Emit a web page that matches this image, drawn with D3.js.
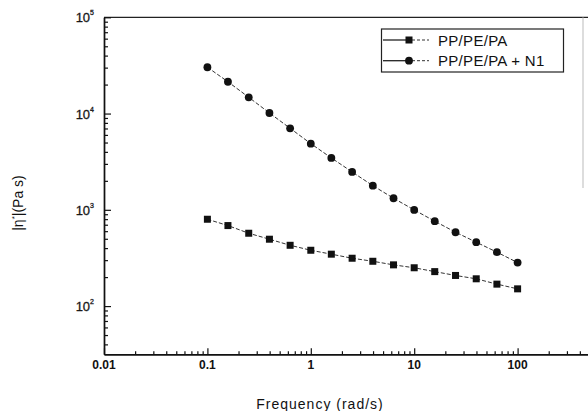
<!DOCTYPE html>
<html><head><meta charset="utf-8">
<script src="https://cdn.jsdelivr.net/npm/d3@7"></script>
<style>body{margin:0;background:#fff}svg{display:block;overflow:hidden}text{font-family:"Liberation Sans",Arial,sans-serif;fill:#111}</style>
</head><body><svg id="c" width="588" height="411"></svg>
<script>
const freq = [0.1, 0.158, 0.251, 0.398, 0.631, 1, 1.58, 2.51, 3.98, 6.31, 10, 15.8, 25.1, 39.8, 63.1, 100];
const blend = [798, 686, 571, 495, 428, 380, 346, 314, 292, 268, 250, 228, 208, 192, 169, 151];
const blendN1 = [30270, 21400, 14760, 10140, 7030, 4870, 3460, 2474, 1782, 1319, 997, 762, 585, 461, 363, 283];
const seriesNames = ["PP/PE/PA", "PP/PE/PA + N1"];
const xTickLabels = ["0.01", "0.1", "1", "10", "100"];
const xTickValues = [0.01, 0.1, 1, 10, 100];
const yTickExps = [2, 3, 4, 5];
const xTitle = "Frequency (rad/s)";

const svg = d3.select("#c");
const L = 104, T = 17.3, B = 354.2;
const x = d3.scaleLog().domain([0.01, 1000]).range([L, L + 5 * 103.4]);
const y = d3.scaleLog().domain([Math.pow(10, 1.5), 1e5]).range([B, T]);

// frame
svg.append("line").attr("x1", L).attr("x2", 588).attr("y1", T).attr("y2", T).attr("stroke", "#222").attr("stroke-width", 1.3);
svg.append("line").attr("x1", 583).attr("x2", 583).attr("y1", T).attr("y2", 188).attr("stroke", "#bbb").attr("stroke-width", 1);

// minor ticks
const minorX = [];
for (let e = -2; e <= 2; e++) for (let m = 2; m <= 9; m++) minorX.push(m * Math.pow(10, e));
const minorY = [];
for (let e = 1; e <= 4; e++) for (let m = 2; m <= 9; m++) { const v = m * Math.pow(10, e); if (v >= Math.pow(10,1.5)) minorY.push(v); }

const gx = svg.append("g").attr("transform", `translate(0,${B})`);
gx.append("g").call(d3.axisBottom(x).tickValues(minorX).tickSizeInner(-3).tickSizeOuter(0).tickFormat(""));
gx.append("g").call(d3.axisBottom(x).tickValues(xTickValues).tickSizeInner(-6).tickSizeOuter(0).tickFormat(""));
gx.selectAll("path.domain").attr("stroke", "#111").attr("stroke-width", 1.4);
gx.selectAll(".tick line").attr("stroke", "#111").attr("stroke-width", 1.2);

const gy = svg.append("g").attr("transform", `translate(${L},0)`);
gy.append("g").call(d3.axisLeft(y).tickValues(minorY).tickSizeInner(-4).tickSizeOuter(0).tickFormat(""));
gy.append("g").call(d3.axisLeft(y).tickValues(yTickExps.map(e => Math.pow(10, e))).tickSizeInner(-7).tickSizeOuter(0).tickFormat(""));
gy.selectAll("path.domain").attr("stroke", "#111").attr("stroke-width", 1.4);
gy.selectAll(".tick line").attr("stroke", "#111").attr("stroke-width", 1.2);

// x tick labels
svg.append("g").selectAll("text").data(xTickValues).join("text")
  .attr("x", d => x(d)).attr("y", 369).attr("text-anchor", "middle")
  .attr("font-size", 12).attr("font-weight", "bold").attr("fill", "#222")
  .text((d, i) => xTickLabels[i]);

// y tick labels
const yl = svg.append("g").selectAll("text").data(yTickExps).join("text")
  .attr("x", 94).attr("y", d => y(Math.pow(10, d)) + 5).attr("text-anchor", "end")
  .attr("font-size", 13).attr("fill", "#222").attr("stroke", "#222").attr("stroke-width", 0.3);
yl.append("tspan").text("10");
yl.append("tspan").attr("font-size", 7).attr("dy", -7).text(d => d);

// titles
svg.append("text").attr("x", 320).attr("y", 409).attr("text-anchor", "middle").attr("font-size", 14).attr("letter-spacing", 1).attr("fill", "#222").text(xTitle);
const yt = svg.append("text").attr("transform", "translate(23,203) rotate(-90)").attr("text-anchor", "middle").attr("font-size", 14).attr("fill", "#222");
yt.append("tspan").text("|η");
yt.append("tspan").attr("font-size", 8).attr("dy", -6).text("*");
yt.append("tspan").attr("dy", 6).text("|(Pa s)");

// series
const line = d3.line().x(d => x(d[0])).y(d => y(d[1]));
const s1 = freq.map((f, i) => [f, blend[i]]);
const s2 = freq.map((f, i) => [f, blendN1[i]]);
[s1, s2].forEach(s => {
  svg.append("path").datum(s).attr("d", line).attr("fill", "none").attr("stroke", "#333").attr("stroke-width", 1).attr("stroke-dasharray", "4,2");
});
svg.append("g").selectAll("rect").data(s1).join("rect")
  .attr("x", d => x(d[0]) - 3.5).attr("y", d => y(d[1]) - 3.5).attr("width", 7).attr("height", 7).attr("fill", "#111");
svg.append("g").selectAll("circle").data(s2).join("circle")
  .attr("cx", d => x(d[0])).attr("cy", d => y(d[1])).attr("r", 3.9).attr("fill", "#111");

// legend
const lg = svg.append("g");
lg.append("rect").attr("x", 381.5).attr("y", 29).attr("width", 182).attr("height", 43).attr("fill", "#fff").attr("stroke", "#222").attr("stroke-width", 1.2);
const rows = [40, 60.7];
rows.forEach((ry, i) => {
  lg.append("line").attr("x1", 383).attr("x2", 407).attr("y1", ry).attr("y2", ry).attr("stroke", "#222").attr("stroke-width", 1.3);
  lg.append("line").attr("x1", 407).attr("x2", 429).attr("y1", ry).attr("y2", ry).attr("stroke", "#333").attr("stroke-width", 1).attr("stroke-dasharray", "3,2");
  if (i === 0) lg.append("rect").attr("x", 405.5).attr("y", ry - 3.5).attr("width", 7).attr("height", 7).attr("fill", "#111");
  else lg.append("circle").attr("cx", 409).attr("cy", ry).attr("r", 3.9).attr("fill", "#111");
  lg.append("text").attr("x", 438).attr("y", ry + 5.5).attr("font-size", 15).attr("letter-spacing", 0.3).attr("fill", "#222").text(seriesNames[i]);
});
</script></body></html>
